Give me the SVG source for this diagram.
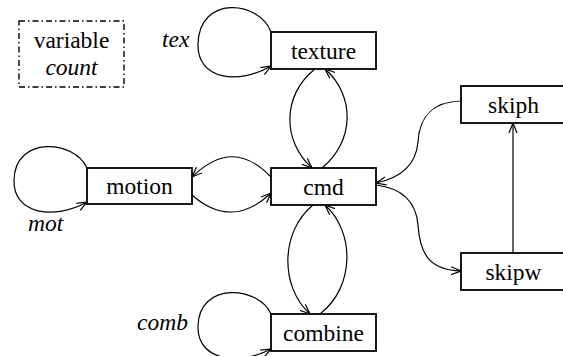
<svg xmlns="http://www.w3.org/2000/svg" width="563" height="356" viewBox="0 0 563 356">
<defs>
<marker id="arr" viewBox="0 0 10 10" refX="10" refY="5" markerWidth="10" markerHeight="10" markerUnits="userSpaceOnUse" orient="auto">
<path d="M0,1 L10,5 L0,9" fill="none" stroke="#000" stroke-width="1.2"/>
</marker>
<style>
.box{fill:#fff;stroke:#000;stroke-width:1.8}
.lbl{font-family:"Liberation Serif",serif;font-size:23.5px;fill:#000;text-anchor:middle}
.it{font-family:"Liberation Serif",serif;font-size:23.5px;font-style:italic;fill:#000}
.e{fill:none;stroke:#000;stroke-width:1.2;marker-end:url(#arr)}
</style>
</defs>
<rect width="563" height="356" fill="#fff"/>
<g id="legend">
<rect x="19" y="21" width="105" height="66" fill="none" stroke="#000" stroke-width="1.4" stroke-dasharray="6,3,1.5,3"/>
<text class="lbl" font-family="Liberation Serif" x="71.5" y="48">variable</text>
<text class="lbl" font-family="Liberation Serif" x="71.5" y="75" font-style="italic">count</text>
</g>
<g id="connectors">
<path class="e" d="M271,32 C259,0 199,-5 198,44 C197,80 239,85 271,66"/>
<path class="e" d="M87,168 C75,140 15,135 14,180 C13,215 55,220 87,202"/>
<path class="e" d="M271,314 C259,286 199,281 198,326 C197,361 239,366 271,349"/>
<path class="e" d="M315,69 C282,95 282,141 312,168"/>
<path class="e" d="M322,168 C355,141 355,95 325,69"/>
<path class="e" d="M313,205 C280,232 280,287 310,314"/>
<path class="e" d="M320,314 C355,287 355,232 325,205"/>
<path class="e" d="M271,177 C245,150 220,150 192,177"/>
<path class="e" d="M192,195 C218,218 245,218 271,193"/>
<path class="e" d="M461,101 C425,102 419,125 418,142 C416,165 400,178 376,183"/>
<path class="e" d="M376,185 C400,188 416,200 418,225 C420,255 430,270 461,271"/>
<path class="e" d="M513,253 L513,123"/>
</g>
<text class="it" font-family="Liberation Serif" x="162" y="47">tex</text>
<text class="it" font-family="Liberation Serif" x="28" y="231">mot</text>
<text class="it" font-family="Liberation Serif" x="137" y="330">comb</text>
<g id="texture"><rect class="box" x="271" y="32" width="105" height="37"/><text class="lbl" font-family="Liberation Serif" x="323.5" y="58.5">texture</text></g>
<g id="cmd"><rect class="box" x="271" y="168" width="105" height="37"/><text class="lbl" font-family="Liberation Serif" x="323.5" y="194.5">cmd</text></g>
<g id="motion"><rect class="box" x="87" y="168" width="105" height="36"/><text class="lbl" font-family="Liberation Serif" x="139.5" y="194">motion</text></g>
<g id="combine"><rect class="box" x="271" y="314" width="105" height="37"/><text class="lbl" font-family="Liberation Serif" x="323.5" y="340.5">combine</text></g>
<g id="skiph"><rect class="box" x="461" y="86" width="105" height="37"/><text class="lbl" font-family="Liberation Serif" x="513.5" y="112.5">skiph</text></g>
<g id="skipw"><rect class="box" x="461" y="253" width="105" height="37"/><text class="lbl" font-family="Liberation Serif" x="513.5" y="279.5">skipw</text></g>
</svg>
